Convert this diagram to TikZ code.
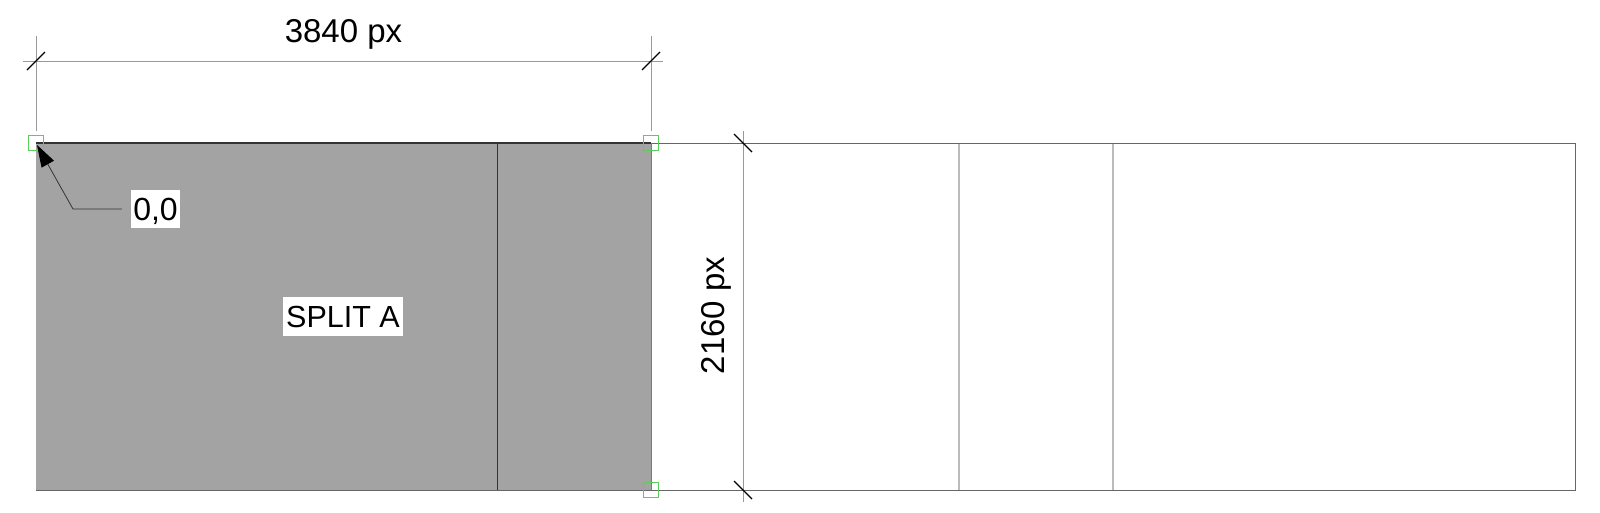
\documentclass[tikz,border=0pt]{standalone}
\usepackage{fontspec}
\setmainfont{Liberation Sans}
\usetikzlibrary{arrows.meta}
\definecolor{splitgray}{HTML}{A3A3A3}
\definecolor{frameline}{HTML}{666666}
\definecolor{darkline}{HTML}{333333}
\definecolor{gridline}{HTML}{BBBBBB}
\definecolor{dimline}{HTML}{999999}
\definecolor{markgreen}{HTML}{5ACD5A}
\tikzset{
  frame/.style={draw=frameline, line width=1pt},
  divider/.style={draw=darkline, line width=1pt},
  grid/.style={draw=gridline, line width=1.2pt},
  dimension/.style={draw=dimline, line width=1pt},
  tick/.style={draw=black, line width=1.2pt},
  marker/.style={draw=markgreen, line width=1pt, minimum size=15pt, inner sep=0pt},
  label/.style={fill=white, inner sep=0pt, text depth=0pt},
  leader/.style={draw=darkline, line width=0.8pt, -{Triangle[length=22pt,width=14pt,color=black,fill=black]}}
}
\begin{document}
\begin{tikzpicture}[x=1pt,y=-1pt]
\useasboundingbox (0,0) rectangle (1600,512);
\fill[white] (0,0) rectangle (1600,512);
% gray split area
\fill[splitgray] (36,143) rectangle (651,490);
\draw[grid] (959,143) -- (959,490);
\draw[grid] (1113,143) -- (1113,490);
\draw[divider] (497,143) -- (497,490);
\draw[frame] (651,143) rectangle (1575,490);
\draw[frame] (36,490) -- (651,490);
\draw[darkline, line width=1.2pt] (36,143) -- (651,143);
\draw[draw=dimline!80!black, line width=1pt] (651,143) -- (651,490);
% horizontal dimension
\draw[dimension] (23,61) -- (663,61);
\draw[dimension] (36,36) -- (36,131);
\draw[dimension] (651,36) -- (651,131);
\draw[tick] (27,70) -- (45,52);
\draw[tick] (642,70) -- (660,52);
\node[anchor=base, font=\fontsize{33}{33}\selectfont] (wlabel) at (343.5,42) {3840 px};
% vertical dimension
\draw[dimension] (743,131) -- (743,502);
\draw[tick] (734,134) -- (752,152);
\draw[tick] (734,481) -- (752,499);
\node[anchor=base, rotate=90, font=\fontsize{33}{33}\selectfont] (hlabel) at (724,315.5) {2160 px};
% green markers
\node[marker] (m1) at (36,143) {};
\node[marker] (m2) at (651,143) {};
\node[marker] (m3) at (651,490) {};
% labels
\node[label, minimum width=120pt, minimum height=39pt, text height=21.5pt, font=\fontsize{30.5}{30.5}\selectfont] (split) at (343,316.5) {SPLIT A};
\node[label, minimum width=49pt, minimum height=38pt, text height=23pt, font=\fontsize{32}{32}\selectfont] (origin) at (155.5,209) {0,0};
\coordinate (corner) at (37,145);
\coordinate (bend) at (73,209);
\draw[leader] ([xshift=-9pt]origin.west) -- (bend) -- (corner);
\end{tikzpicture}
\end{document}
